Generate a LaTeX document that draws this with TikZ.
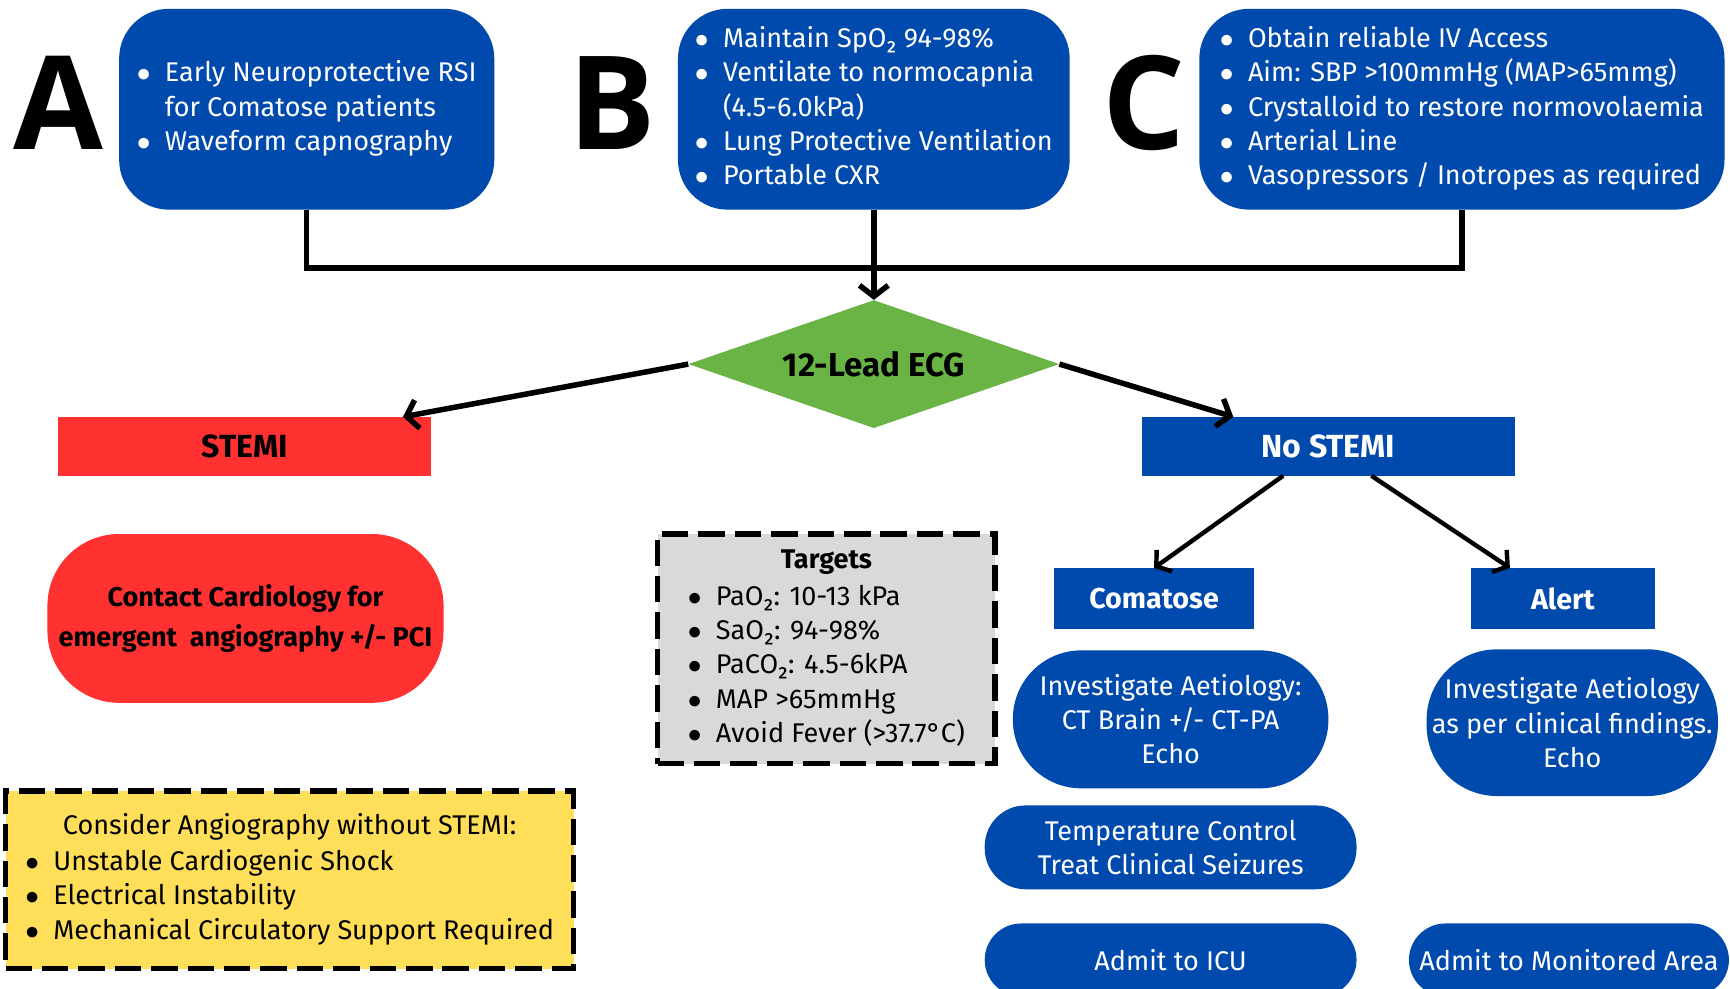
\documentclass[tikz,border=0pt]{standalone}
\usepackage{fontspec}
\setmainfont{Fira Sans}
\newfontfamily\bigf{Open Sans}
\usetikzlibrary{arrows.meta,shapes.geometric,calc}
\definecolor{cblue}{HTML}{004AAD}
\definecolor{cred}{HTML}{FF3131}
\definecolor{cgreen}{HTML}{6AB446}
\definecolor{cgray}{HTML}{D9D9D9}
\definecolor{cyellow}{HTML}{FFDE59}
\newcommand{\bodyfont}{\fontsize{24.5}{31}\selectfont}
\tikzset{
  topbox/.style={fill=cblue, rounded corners=45pt, text=white, inner sep=0pt, font=\bodyfont},
  letter/.style={inner sep=0pt, font=\bigf\bfseries\fontsize{118}{118}\selectfont},
  flatbox/.style={inner sep=0pt, minimum height=53pt},
  stad/.style={fill=cblue, text=white, inner sep=0pt, align=center, font=\bodyfont},
  dashbox/.style={draw=black, line width=5pt, dash pattern=on 24pt off 9pt, inner sep=0pt, font=\bodyfont},
  bus/.style={line width=5pt},
  arr/.style={line width=5pt, -{Straight Barb[length=10pt,width=26pt]}},
  arrthin/.style={line width=4pt, -{Straight Barb[length=9pt,width=24pt]}},
}
\newcommand{\bul}{$\bullet$}
\newcommand{\blist}[1]{\begin{tabular}{@{}l@{\hspace{13pt}}l@{}}#1\end{tabular}}
\begin{document}
\begin{tikzpicture}[x=1pt,y=-1pt]
\useasboundingbox (0,0) rectangle (1568,896);
\clip (0,0) rectangle (1568,896);
\fill[white] (0,0) rectangle (1568,896);

% letters
\node[letter] (LA) at (53,93) {A};
\node[letter] (LB) at (555,93) {B};
\node[letter] (LC) at (1037,93) {C};

% top boxes
\node[topbox, minimum width=340pt, minimum height=182pt] (A) at (278,99)
  {\blist{\bul & Early Neuroprotective RSI\\ & for Comatose patients\\ \bul & Waveform capnography}};
\node[topbox, minimum width=355pt, minimum height=182pt] (B) at (792,99)
  {\blist{\bul & Maintain SpO₂ 94-98\%\\ \bul & Ventilate to normocapnia\\ & (4.5-6.0kPa)\\ \bul & Lung Protective Ventilation\\ \bul & Portable CXR}};
\node[topbox, minimum width=476pt, minimum height=182pt] (C) at (1325,99)
  {\blist{\bul & Obtain reliable IV Access\\ \bul & Aim: SBP >100mmHg (MAP>65mmg)\\ \bul & Crystalloid to restore normovolaemia\\ \bul & Arterial Line\\ \bul & Vasopressors / Inotropes as required}};

% diamond
\node[diamond, fill=cgreen, inner sep=0pt, aspect=2.9, minimum width=336pt, minimum height=116pt,
  font=\bfseries\fontsize{30}{30}\selectfont] (D) at (792,330) {12-Lead ECG};

\coordinate (bus) at (792,243);
\draw[bus] (A.south) |- (bus) -| (C.south);
\draw[arr] (B.south) -- (D.north);

% STEMI / No STEMI
\node[flatbox, fill=cred, minimum width=338pt, font=\bfseries\fontsize{29}{29}\selectfont] (S) at (222,404.5) {STEMI};
\node[flatbox, fill=cblue, minimum width=338pt, text=white, font=\bfseries\fontsize{29}{29}\selectfont] (NS) at (1204,404.5) {No STEMI};
\draw[arr] (D.west) -- ([xshift=-26pt]S.north east);
\draw[arr] (D.east) -- ([xshift=83pt]NS.north west);

% contact cardiology
\node[fill=cred, rounded corners=65pt, minimum width=359pt, minimum height=153pt, inner sep=0pt,
  align=center, font=\bfseries\fontsize{24.5}{36}\selectfont] (CC) at (222.5,560.5)
  {Contact Cardiology for\\emergent\ \ angiography +/- PCI};

% targets
\node[dashbox, fill=cgray, minimum width=306pt, minimum height=208pt] (T) at (749,588)
  {\blist{\multicolumn{2}{c}{\bfseries Targets}\\[2pt] \bul & PaO₂: 10-13 kPa\\ \bul & SaO₂: 94-98\%\\ \bul & PaCO₂: 4.5-6kPA\\ \bul & MAP >65mmHg\\ \bul & Avoid Fever (>37.7°C)}};

% yellow
\node[dashbox, fill=cyellow, minimum width=515pt, minimum height=161pt] (Y) at (262.5,797.5)
  {\blist{\multicolumn{2}{c}{Consider Angiography without STEMI:}\\[2pt] \bul & Unstable Cardiogenic Shock\\ \bul & Electrical Instability\\ \bul & Mechanical Circulatory Support Required}};

% comatose / alert
\node[flatbox, fill=cblue, text=white, minimum width=182pt, minimum height=55pt,
  font=\bfseries\fontsize{26}{26}\selectfont] (CO) at (1046,542.5) {Comatose};
\node[flatbox, fill=cblue, text=white, minimum width=167pt, minimum height=55pt,
  font=\bfseries\fontsize{26}{26}\selectfont] (AL) at (1416.5,542.5) {Alert};
\draw[arrthin] ([xshift=-41pt]NS.south) -- (CO.north);
\draw[arrthin] ([xshift=39pt]NS.south) -- ([xshift=-48pt]AL.north);

% stadiums
\node[stad, rounded corners=62pt, minimum width=286pt, minimum height=125pt] (I1) at (1061,652)
  {Investigate Aetiology:\\CT Brain +/- CT-PA\\Echo};
\node[stad, rounded corners=64pt, minimum width=264pt, minimum height=133pt] (I2) at (1425,655)
  {Investigate Aetiology\\as per clinical findings.\\Echo};
\node[stad, rounded corners=37pt, minimum width=337pt, minimum height=76pt] (TC) at (1061,768)
  {Temperature Control\\Treat Clinical Seizures};
\node[stad, rounded corners=33pt, minimum width=337pt, minimum height=66pt] (ICU) at (1061,870)
  {Admit to ICU};
\node[stad, rounded corners=33pt, minimum width=290pt, minimum height=66pt] (MA) at (1422,870)
  {Admit to Monitored Area};
\end{tikzpicture}
\end{document}
